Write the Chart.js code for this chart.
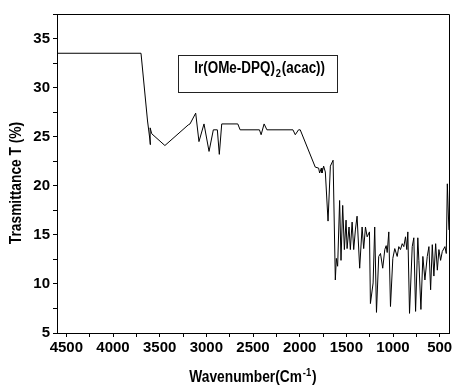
<!DOCTYPE html>
<html>
<head>
<meta charset="utf-8">
<script src="https://cdn.jsdelivr.net/npm/chart.js@4.4.1/dist/chart.umd.min.js"></script>
<style>
  html, body { margin: 0; padding: 0; background: #fff; }
  #wrap { width: 452px; height: 385px; }
</style>
</head>
<body>
<div id="wrap"><canvas id="ir" width="452" height="385"></canvas></div>
<script>
// IR spectrum (cm-1 / %T)
var wavenumber = [4600, 3700, 3630, 3598, 3602, 3585, 3444, 3194, 3175, 3114, 3079, 3025, 2971, 2925,
    2882, 2861, 2835, 2663, 2638, 2431, 2413, 2381, 2351, 2072, 2047, 2012, 1994, 1833, 1797, 1786,
    1768, 1761, 1743, 1725, 1696, 1671, 1642, 1618, 1607, 1593, 1572, 1557, 1539, 1521, 1503, 1492,
    1471, 1457, 1438, 1421, 1403, 1385, 1357, 1331, 1314, 1295, 1277, 1252, 1242, 1213, 1196, 1177,
    1153, 1134, 1110, 1088, 1073, 1062, 1045, 1027, 1002, 981, 955, 938, 920, 901, 884, 866, 852,
    841, 823, 794, 777, 758, 734, 723, 701, 680, 658, 633, 615, 597, 579, 562, 543, 525, 508, 490,
    472, 444, 429, 418, 401];
var transmittance = [33.5, 33.5, 26.6, 24.2, 25.9, 25.3, 24.1, 26.2, 26.3, 27.4, 24.5, 26.3, 23.5, 25.7,
    25.7, 23.2, 26.3, 26.3, 25.7, 25.7, 25.2, 26.3, 25.7, 25.7, 25.2, 25.7, 25.7, 21.9, 21.8, 21.3,
    21.8, 21.3, 22.0, 21.4, 16.4, 22.0, 22.6, 10.4, 12.6, 11.8, 18.5, 12.4, 18.0, 13.5, 16.5, 13.6,
    15.8, 13.5, 16.3, 13.5, 15.5, 16.9, 11.6, 15.8, 13.6, 15.8, 14.8, 15.3, 8.0, 10.1, 15.8, 7.1,
    12.8, 13.1, 11.6, 13.5, 13.9, 13.2, 15.3, 7.7, 12.6, 13.6, 12.8, 13.8, 13.5, 14.1, 13.8, 14.8, 13.5,
    15.3, 7.0, 13.8, 14.7, 7.2, 14.7, 12.4, 7.4, 12.8, 10.4, 12.8, 13.8, 9.4, 14.0, 10.8, 14.1, 11.4, 13.5, 12.4,
    13.3, 13.8, 13.1, 20.2, 15.5];

var xTicks = [4500, 4000, 3500, 3000, 2500, 2000, 1500, 1000, 500];
var yTicks = [5, 10, 15, 20, 25, 30, 35];
var sampleName = ['Ir(OMe-DPQ)', '2', '(acac))'];
var xTitle = ['Wavenumber(Cm', '-1', ')'];
var yTitle = 'Trasmittance T (%)';

var FONT = '"Liberation Sans", Arial, sans-serif';

// text with a raised / lowered small part in the middle, squeezed a bit sideways
function drawScript(ctx, parts, cx, baseline, size, shift, sx) {
    var big = 'bold ' + size + 'px ' + FONT;
    var small = 'bold ' + Math.round(size * 0.68) + 'px ' + FONT;
    ctx.font = big;
    var w0 = ctx.measureText(parts[0]).width;
    var w2 = ctx.measureText(parts[2]).width;
    ctx.font = small;
    var w1 = ctx.measureText(parts[1]).width + 2;
    var x = -(w0 + w1 + w2) / 2;
    ctx.save();
    ctx.translate(cx, baseline);
    ctx.scale(sx, 1);
    ctx.textAlign = 'left';
    ctx.textBaseline = 'alphabetic';
    ctx.font = big;
    ctx.fillText(parts[0], x, 0);
    ctx.font = small;
    ctx.fillText(parts[1], x + w0 + 1, shift);
    ctx.font = big;
    ctx.fillText(parts[2], x + w0 + w1, 0);
    ctx.restore();
}

var decor = {
    id: 'decor',
    afterDraw: function(chart) {
        var ctx = chart.ctx;
        var a = chart.chartArea;
        var xs = chart.scales.x, ys = chart.scales.y;
        ctx.save();
        ctx.strokeStyle = '#000';
        ctx.lineWidth = 1;
        ctx.beginPath();
        ctx.moveTo(a.left, a.top + 0.5);
        ctx.lineTo(a.right + 0.5, a.top + 0.5);
        ctx.lineTo(a.right + 0.5, a.bottom);
        ctx.stroke();

        // sample label box
        var bx1 = xs.getPixelForValue(3300), bx2 = xs.getPixelForValue(1600);
        var by1 = ys.getPixelForValue(33.3), by2 = ys.getPixelForValue(29.5);
        ctx.strokeStyle = '#222';
        ctx.strokeRect(Math.round(bx1) + 0.5, Math.round(by1) + 0.5, Math.round(bx2 - bx1), Math.round(by2 - by1));
        ctx.fillStyle = '#000';
        drawScript(ctx, sampleName, (bx1 + bx2) / 2 + 2, by1 + 18, 16, 4, 0.84);

        // axis titles
        drawScript(ctx, xTitle, (a.left + a.right) / 2, 382, 16, -6, 0.86);
        ctx.translate(17, 183);
        ctx.rotate(-Math.PI / 2);
        ctx.scale(0.86, 1);
        ctx.font = 'bold 16px ' + FONT;
        ctx.textAlign = 'center';
        ctx.textBaseline = 'middle';
        ctx.fillText(yTitle, 0, 0);
        ctx.restore();
    }
};

var points = wavenumber.map(function(w, i) { return { x: w, y: transmittance[i] }; });

new Chart(document.getElementById('ir').getContext('2d'), {
    type: 'line',
    data: {
        datasets: [{
            data: points,
            borderColor: '#000',
            borderWidth: 1,
            pointRadius: 0,
            tension: 0,
            fill: false
        }]
    },
    options: {
        responsive: false,
        animation: false,
        devicePixelRatio: 1,
        layout: { padding: { top: 14, right: 3, left: 0, bottom: 0 } },
        plugins: { legend: { display: false }, tooltip: { enabled: false } },
        scales: {
            x: {
                type: 'linear',
                reverse: true,
                min: 400,
                max: 4600,
                afterBuildTicks: function(scale) {
                    var t = [];
                    xTicks.forEach(function(v) {
                        t.push({ value: v });
                        if (v + 250 < 4600) t.push({ value: v + 250 });
                    });
                    t.sort(function(a, b) { return a.value - b.value; });
                    scale.ticks = t;
                },
                afterFit: function(scale) { scale.height = 52; },
                grid: { drawOnChartArea: false, drawTicks: true, tickLength: 4, color: '#000' },
                border: { display: true, color: '#000', width: 1 },
                ticks: {
                    autoSkip: false,
                    maxRotation: 0,
                    padding: 2,
                    color: '#000',
                    font: { family: FONT, size: 15, weight: 'bold' },
                    callback: function(v) { return xTicks.indexOf(v) >= 0 ? String(v) : ''; }
                }
            },
            y: {
                min: 5,
                max: 37.5,
                afterBuildTicks: function(scale) {
                    var t = [];
                    yTicks.forEach(function(v) {
                        t.push({ value: v });
                        t.push({ value: v + 2.5 });
                    });
                    scale.ticks = t;
                },
                afterFit: function(scale) { scale.width = 57; },
                grid: { drawOnChartArea: false, drawTicks: true, tickLength: 4, color: '#000' },
                border: { display: true, color: '#000', width: 1 },
                ticks: {
                    autoSkip: false,
                    padding: 3,
                    color: '#000',
                    font: { family: FONT, size: 15, weight: 'bold' },
                    callback: function(v) { return yTicks.indexOf(v) >= 0 ? String(v) : ''; }
                }
            }
        }
    },
    plugins: [decor]
});
</script>
</body>
</html>
